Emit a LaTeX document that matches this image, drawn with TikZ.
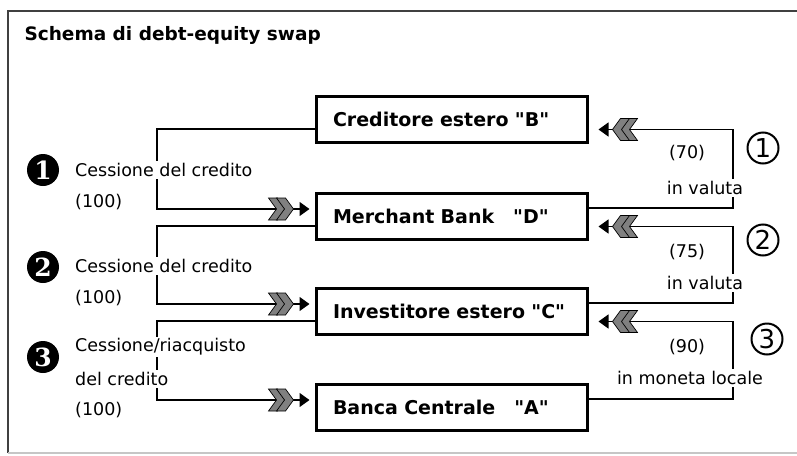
\documentclass[tikz,border=0pt]{standalone}
\usepackage{fontspec}
\setmainfont{DejaVu Sans}
\newfontfamily\droit{DejaVu Sans}
\newfontfamily\chiffre{DejaVu Serif}
\usetikzlibrary{arrows.meta,calc,positioning}

\tikzset{
  boite/.style={draw, line width=3pt, minimum width=271pt, minimum height=46pt,
    inner xsep=17pt, text width=237pt, align=left,
    font=\fontsize{19}{21}\selectfont\droit\bfseries},
  lien/.style={line width=1.3pt},
  fleche/.style={lien, -{Triangle[length=10pt,width=14pt]}},
  texte/.style={fill=white, inner sep=2pt, font=\fontsize{17.5}{20}\selectfont},
  noir/.style={circle, fill=black, minimum size=32pt, inner sep=0pt, text=white,
    font=\fontsize{25}{25}\selectfont\chiffre\bfseries},
  rond/.style={circle, draw, line width=2pt, minimum size=31pt, inner sep=0pt,
    font=\fontsize{26}{26}\selectfont},
  chev/.pic={
    \filldraw[fill=black!50, draw=black, line width=0.7pt]
      (-25,-11) -- (-16,-11) -- (-8,0) -- (-16,11) -- (-25,11) -- (-17,0) -- cycle;
    \filldraw[fill=black!50, draw=black, line width=0.7pt]
      (-17,-11) -- (-8,-11) -- (0,0) -- (-8,11) -- (-17,11) -- (-9,0) -- cycle;
  }
}

\begin{document}
\begin{tikzpicture}[x=1pt, y=-1pt]
  \useasboundingbox (0,0) rectangle (797,455);
  % cadre
  \draw[line width=2pt, black!75] (797,11) -- (8,11) -- (8,453);
  \draw[line width=1.5pt, gray!45] (8,453) -- (797,453);
  \node[anchor=west, font=\fontsize{18.5}{20}\selectfont\bfseries] (titre) at (21,35) {Schema di debt-equity swap};

  % les quatre acteurs
  \node[boite] (credB)  at (451.5,119.5) {Creditore estero "B"};
  \node[boite] (merchD) at (451.5,216.5) {Merchant Bank\ \ \ "D"};
  \node[boite] (invC)   at (451.5,311.5) {Investitore estero "C"};
  \node[boite] (bancaA) at (451.5,407.5) {Banca Centrale\ \ \ "A"};

  \coordinate (gauche) at (157,0);
  \coordinate (droite) at (733,0);

  % cessioni del credito (a sinistra)
  \foreach \a/\b in {credB/merchD, merchD/invC, invC/bancaA}{
    \coordinate (s) at ($(\a.west)+(0,9.5)$);
    \coordinate (e) at ($(\b.west)+(0,-7.5)$);
    \draw[fleche, shorten >=5pt] (s) -| (gauche |- e) -- (e);
    \pic at ($(e)+(-21,0)$) {chev};
  }
  % pagamenti (a destra)
  \foreach \a/\b in {merchD/credB, invC/merchD, bancaA/invC}{
    \coordinate (s) at ($(\a.east)+(0,-8.5)$);
    \coordinate (e) at ($(\b.east)+(0,10)$);
    \draw[fleche, shorten >=10pt] (s) -| (droite |- e) -- (e);
    \pic[rotate=180] at ($(e)+(24,0)$) {chev};
  }

  % testi a sinistra
  \node[noir] (n1) at (43,170) {1};
  \node[noir] (n2) at (43,267) {2};
  \node[noir] (n3) at (43,357) {3};
  \node[texte, anchor=west] (c1) at (73,170) {Cessione del credito};
  \node[texte, anchor=west] (v1) at (73,202) {(100)};
  \node[texte, anchor=west] (c2) at (73,266) {Cessione del credito};
  \node[texte, anchor=west] (v2) at (73,298) {(100)};
  \node[texte, anchor=west] (c3) at (73,347) {Cessione/riacquisto};
  \node[texte, anchor=west] (d3) at (73,379) {del credito};
  \node[texte, anchor=west] (v3) at (73,410) {(100)};

  % testi a destra
  \node[texte] (p1) at (687,153) {(70)};
  \node[texte] (m1) at (705,188) {in valuta};
  \node[texte] (p2) at (687,252) {(75)};
  \node[texte] (m2) at (705,283) {in valuta};
  \node[texte] (p3) at (687,347) {(90)};
  \node[texte] (m3) at (690,378) {in moneta locale};
  \node[rond] (r1) at (763,148) {1};
  \node[rond] (r2) at (763,240) {2};
  \node[rond] (r3) at (767,339) {3};
\end{tikzpicture}
\end{document}
